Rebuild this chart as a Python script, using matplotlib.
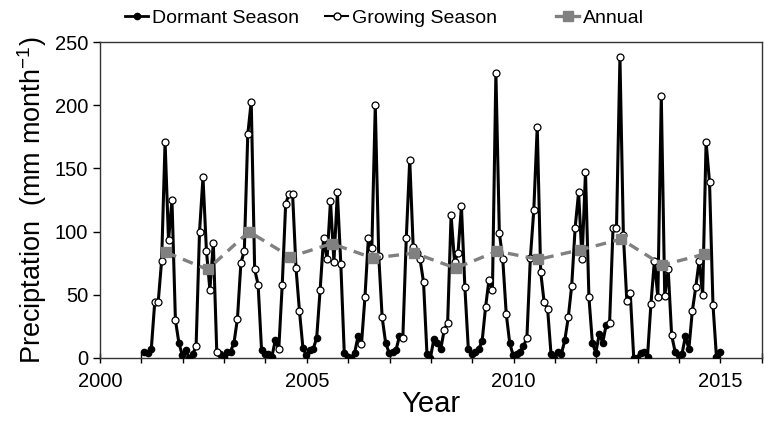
import numpy as np
import matplotlib
matplotlib.use("Agg")
import matplotlib.pyplot as plt
from matplotlib.lines import Line2D

plt.rcParams['font.family'] = ['Liberation Sans', 'DejaVu Sans']
plt.rcParams['mathtext.default'] = 'regular'

# monthly precipitation (mm month-1), Jan..Dec for each year
years = list(range(2001, 2015))
monthly = {
    2001: [5, 4, 7, 44, 44, 77, 171, 93, 125, 30, 12, 2],
    2002: [6, 0, 3, 9, 100, 143, 85, 54, 91, 5, 3, 1],
    2003: [5, 5, 12, 31, 75, 85, 177, 203, 70, 58, 6, 3],
    2004: [3, 1, 14, 7, 58, 122, 130, 130, 71, 37, 8, 2],
    2005: [6, 7, 16, 54, 95, 78, 124, 76, 131, 74, 4, 1],
    2006: [0, 4, 17, 11, 48, 95, 87, 200, 81, 32, 12, 4],
    2007: [5, 6, 17, 16, 95, 157, 88, 83, 78, 60, 3, 0],
    2008: [15, 12, 7, 22, 28, 113, 76, 83, 120, 56, 7, 3],
    2009: [5, 7, 13, 40, 62, 54, 226, 99, 78, 35, 12, 2],
    2010: [3, 5, 9, 16, 79, 117, 183, 68, 44, 39, 3, 0],
    2011: [5, 3, 14, 32, 57, 103, 131, 78, 147, 48, 12, 4],
    2012: [19, 12, 26, 28, 103, 103, 238, 97, 45, 51, 0, 0],
    2013: [4, 5, 1, 43, 77, 48, 207, 49, 70, 18, 5, 2],
    2014: [3, 17, 7, 37, 56, 77, 50, 171, 139, 42, 1, 5],
}
growing_months = [4, 5, 6, 7, 8, 9, 10]   # Apr-Oct, rest is dormant
annual = [83.5, 70, 100, 80, 90.5, 79, 83, 71, 84.5, 78, 85.5, 94, 73.5, 82]

t, p, grow = [], [], []
for y in years:
    for m, v in enumerate(monthly[y], start=1):
        t.append(y + (m - 0.5) / 12 + 0.03)
        p.append(v)
        grow.append(m in growing_months)
t, p, grow = np.array(t), np.array(p), np.array(grow)

fig = plt.figure(figsize=(7.64, 4.22), dpi=100)
ax = fig.add_axes([0.131, 0.152, 0.866, 0.748])

ax.plot(t, p, color='black', lw=2.2, zorder=2)
ax.plot(t[~grow], p[~grow], 'o', color='black', ms=4.5, zorder=3)
ax.plot(t[grow], p[grow], 'o', mfc='white', mec='black', mew=0.9, ms=5, zorder=3)
ax.plot(np.array(years) + 0.6, annual, color='#808080', lw=2.4, ls=(0, (3.2, 2.2)),
        marker='s', ms=7, zorder=4)

ax.set_xlim(2000, 2016)
ax.set_ylim(0, 250)
ax.set_xticks([2000, 2005, 2010, 2015])
ax.set_xticks(range(2000, 2017), minor=True)
ax.set_yticks(range(0, 251, 50))
ax.tick_params(axis='x', which='both', direction='inout', length=7, width=1, labelsize=14.5, pad=7)
ax.tick_params(axis='y', direction='out', length=5, width=1, labelsize=14.5)
for s in ax.spines.values():
    s.set_linewidth(1)
    s.set_color('#333333')

ax.set_xlabel('Year', fontsize=21, labelpad=-1)
ax.set_ylabel('Preciptation  (mm month$^{-1}$)', fontsize=19.5, labelpad=4)

# legend entries placed one by one along the top
entries = [
    (Line2D([], [], color='black', lw=2, marker='o', ms=4.5), 'Dormant Season', 125),
    (Line2D([], [], color='black', lw=1.5, marker='o', mfc='white', mec='black', ms=5),
     'Growing Season', 325),
    (Line2D([], [], color='#808080', lw=2.4, marker='s', ms=7), 'Annual', 556),
]
for h, lab, xpix in entries:
    fig.legend([h], [lab], loc='center left', bbox_to_anchor=(xpix / 764, 0.957),
               frameon=False, fontsize=14, borderpad=0, borderaxespad=0,
               handlelength=1.2, handletextpad=0.2)

fig.savefig('out.png', dpi=100)
